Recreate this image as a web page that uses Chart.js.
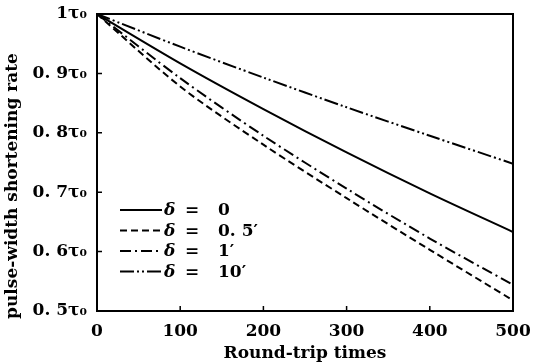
<!DOCTYPE html>
<html lang="en">
<head>
    <meta charset="UTF-8">
    <title>Pulse-width shortening rate</title>
    <script src="https://cdn.jsdelivr.net/npm/chart.js"></script>
    <style>
        html, body { margin: 0; padding: 0; background: #fff; }
        #wrap { width: 534px; height: 364px; }
    </style>
</head>
<body>
    <div id="wrap"><canvas id="chart"></canvas></div>

    <script>
        // values
        const roundTrips = [0, 100, 200, 300, 400, 500];
        const delta0 = [1, 0.917, 0.840, 0.767, 0.698, 0.633];
        const delta05 = [1, 0.878, 0.780, 0.690, 0.603, 0.518];
        const delta1 = [1, 0.892, 0.795, 0.706, 0.622, 0.544];
        const delta10 = [1, 0.945, 0.893, 0.843, 0.795, 0.748];
        const seriesLabels = ['0', '0. 5\u2032', '1\u2032', '10\u2032'];
        const yTickLabels = { 1: '1\u03c4\u2080', 0.9: '0. 9\u03c4\u2080', 0.8: '0. 8\u03c4\u2080', 0.7: '0. 7\u03c4\u2080', 0.6: '0. 6\u03c4\u2080', 0.5: '0. 5\u03c4\u2080' };
        const yTitle = 'pulse-width shortening rate';

        const serif = '"DejaVu Serif", "Liberation Serif", serif';

        function pts(vals) {
            return roundTrips.map((x, i) => ({ x: x, y: vals[i] }));
        }

        const dashes = [[], [7, 4], [11, 4, 2, 4], [14, 3, 2, 3, 2, 3]];
        const sets = [delta0, delta05, delta1, delta10].map((v, i) => ({
            label: seriesLabels[i],
            data: pts(v),
            borderColor: '#000',
            borderWidth: 2,
            borderDash: dashes[i],
            pointRadius: 0,
            tension: 0.3,
            fill: false
        }));

        // frame, inward ticks, y title and the legend drawn inside the plot
        const framePlugin = {
            id: 'frame',
            afterDraw(chart) {
                const ctx = chart.ctx;
                const a = chart.chartArea;
                const xs = chart.scales.x, ys = chart.scales.y;
                ctx.save();
                ctx.strokeStyle = '#000';
                ctx.lineWidth = 2;
                ctx.strokeRect(a.left, a.top, a.right - a.left, a.bottom - a.top);
                ctx.lineWidth = 1.5;
                ctx.beginPath();
                roundTrips.forEach(v => {
                    const px = xs.getPixelForValue(v);
                    ctx.moveTo(px, a.bottom); ctx.lineTo(px, a.bottom - 5);
                });
                Object.keys(yTickLabels).forEach(v => {
                    const py = ys.getPixelForValue(Number(v));
                    ctx.moveTo(a.left, py); ctx.lineTo(a.left + 5, py);
                });
                ctx.stroke();

                // y title, sitting a bit below the middle like the original
                ctx.save();
                ctx.translate(13, 186);
                ctx.rotate(-Math.PI / 2);
                ctx.font = 'bold 17px ' + serif;
                ctx.textAlign = 'center';
                ctx.textBaseline = 'middle';
                ctx.fillStyle = '#000';
                ctx.fillText(yTitle, 0, 0);
                ctx.restore();

                // legend
                const lx = a.left + 23, ly = ys.getPixelForValue(0.67);
                chart.data.datasets.forEach((ds, i) => {
                    const y = ly + i * 20.5;
                    ctx.lineWidth = 2;
                    ctx.setLineDash(ds.borderDash);
                    ctx.beginPath();
                    ctx.moveTo(lx, y); ctx.lineTo(lx + 42, y);
                    ctx.stroke();
                    ctx.setLineDash([]);
                    ctx.fillStyle = '#000';
                    ctx.textBaseline = 'middle';
                    ctx.font = 'bold italic 17px ' + serif;
                    ctx.fillText('\u03b4', lx + 44, y + 1);
                    ctx.font = 'bold 17px ' + serif;
                    ctx.fillText('=', lx + 65, y + 1);
                    ctx.fillText(ds.label, lx + 98, y + 1);
                });
                ctx.restore();
            }
        };

        new Chart(document.getElementById('chart'), {
            type: 'line',
            data: { datasets: sets },
            options: {
                responsive: true,
                maintainAspectRatio: false,
                animation: false,
                layout: { padding: { top: 14, right: 21, left: 0, bottom: 0 } },
                plugins: { legend: { display: false }, tooltip: { enabled: false } },
                scales: {
                    x: {
                        type: 'linear',
                        min: 0,
                        max: 500,
                        grid: { display: false },
                        border: { display: false },
                        ticks: { stepSize: 100, color: '#000', font: { family: serif, size: 17, weight: 'bold' }, padding: 2, maxRotation: 0 },
                        title: { display: true, text: 'Round-trip times', color: '#000', font: { family: serif, size: 17, weight: 'bold' }, padding: { top: -5, bottom: 0 } },
                        afterFit(scale) { scale.height = 53; }
                    },
                    y: {
                        min: 0.5,
                        max: 1,
                        grid: { display: false },
                        border: { display: false },
                        ticks: {
                            stepSize: 0.1,
                            color: '#000',
                            padding: 2,
                            font: { family: serif, size: 17, weight: 'bold' },
                            callback: v => yTickLabels[Math.round(v * 10) / 10] || ''
                        },
                        afterFit(scale) { scale.width = 97; }
                    }
                }
            },
            plugins: [framePlugin]
        });
    </script>
</body>
</html>
